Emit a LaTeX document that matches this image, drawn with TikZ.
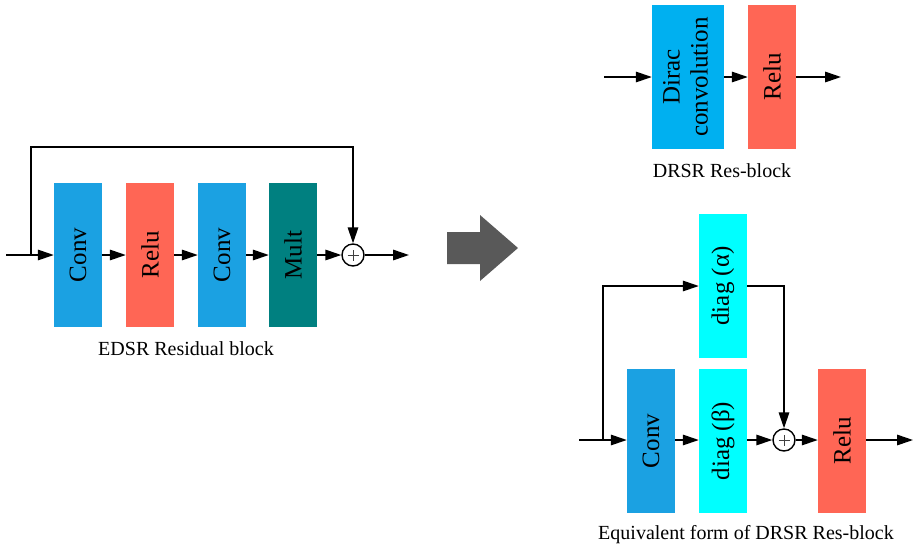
\documentclass[tikz,border=0pt]{standalone}
\usepackage{fontspec}
\setmainfont{Liberation Serif}
\usetikzlibrary{arrows.meta}
\definecolor{convblue}{HTML}{1BA1E2}
\definecolor{relured}{HTML}{FF6655}
\definecolor{multteal}{HTML}{008080}
\definecolor{diracblue}{HTML}{00B0F0}
\definecolor{diagcyan}{HTML}{00FFFF}
\definecolor{arrgray}{HTML}{595959}
\begin{document}
\begin{tikzpicture}[x=1pt,y=-1pt,
  blk/.style={minimum width=48pt, minimum height=144pt, inner sep=0pt, draw=none,
    font=\fontsize{25}{28}\selectfont},
  wire/.style={line width=1.6pt},
  flow/.style={line width=1.6pt, -{Triangle[length=16pt,width=10.5pt]}},
  sum/.style={circle, draw, line width=1.4pt, minimum size=22pt, inner sep=0pt, fill=white,
    path picture={
      \draw[line width=0.7pt, black!75]
        ([xshift=-5.5pt]path picture bounding box.center) -- ([xshift=5.5pt]path picture bounding box.center)
        ([yshift=-5.5pt]path picture bounding box.center) -- ([yshift=5.5pt]path picture bounding box.center);}},
  blockcaption/.style={font=\fontsize{20}{24}\selectfont, inner sep=0pt}]
\useasboundingbox (0,0) rectangle (916,550);

% ---- EDSR residual block ----
\node[blk, fill=convblue] (c1) at (78,255) {\rotatebox{90}{Conv}};
\node[blk, fill=relured]  (r1) at (150,255) {\rotatebox{90}{Relu}};
\node[blk, fill=convblue] (c2) at (222,255) {\rotatebox{90}{Conv}};
\node[blk, fill=multteal] (m1) at (293,255) {\rotatebox{90}{Mult}};
\node[sum] (s1) at (353,255) {};
\coordinate (inL) at (6,255);
\coordinate (brL) at (31,255);
\coordinate (topL) at (31,147);
\coordinate (outL) at (409,255);
\draw[wire] (inL) -- (brL);
\draw[flow] (brL) -- (c1);
\draw[flow] (brL) -- (topL) -| (s1.north);
\draw[flow] (c1) -- (r1);
\draw[flow] (r1) -- (c2);
\draw[flow] (c2) -- (m1);
\draw[flow] (m1) -- (s1);
\draw[flow] (s1) -- (outL);
\node[blockcaption] (capL) at (186,349) {EDSR Residual block};

% ---- transformation arrow ----
\fill[arrgray] (447,232) -- (480,232) -- (480,215) -- (518,248) -- (480,281)
  -- (480,264) -- (447,264) -- cycle;

% ---- DRSR res-block ----
\node[blk, minimum width=72pt, fill=diracblue] (dc) at (688,77)
  {\rotatebox{90}{\begin{tabular}{@{}c@{}}Dirac\\convolution\end{tabular}}};
\node[blk, fill=relured] (r2) at (772,77) {\rotatebox{90}{Relu}};
\coordinate (inT) at (604,77);
\coordinate (outT) at (841,77);
\draw[flow] (inT) -- (dc);
\draw[flow] (dc) -- (r2);
\draw[flow] (r2) -- (outT);
\node[blockcaption] (capT) at (722,171) {DRSR Res-block};

% ---- equivalent form ----
\node[blk, fill=diagcyan] (da) at (723,286) {\rotatebox{90}{diag (α)}};
\node[blk, fill=convblue] (c3) at (651,441) {\rotatebox{90}{Conv}};
\node[blk, fill=diagcyan] (db) at (723,441) {\rotatebox{90}{diag (β)}};
\node[sum] (s2) at (784,440) {};
\node[blk, fill=relured] (r3) at (842,441) {\rotatebox{90}{Relu}};
\coordinate (inB) at (579,440);
\coordinate (brB) at (603,440);
\coordinate (topB) at (603,286);
\coordinate (outB) at (913,440);
\draw[wire] (inB) -- (brB);
\draw[flow] (brB) -- (c3.west |- brB);
\draw[flow] (brB) -- (topB) -- (da.west |- topB);
\draw[flow] (da.east |- topB) -| (s2.north);
\draw[flow] (c3.east |- brB) -- (db.west |- brB);
\draw[flow] (db.east |- brB) -- (s2.west);
\draw[flow] (s2.east) -- (r3.west |- s2.east);
\draw[flow] (r3.east |- brB) -- (outB);
\node[blockcaption] (capB) at (746,535) {Equivalent form of DRSR Res-block};
\end{tikzpicture}
\end{document}
